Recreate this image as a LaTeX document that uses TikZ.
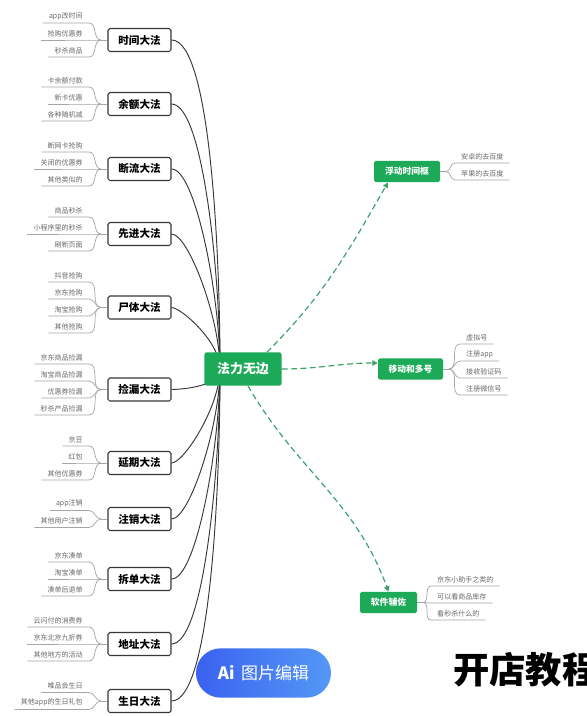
\documentclass[tikz,border=0pt]{standalone}
\usepackage{fontspec}
\setmainfont{Noto Sans CJK SC}
\usetikzlibrary{arrows.meta}

\definecolor{mapgreen}{RGB}{28,170,88}
\definecolor{dashgreen}{RGB}{60,160,105}
\definecolor{boxline}{RGB}{55,55,55}
\definecolor{leafgray}{RGB}{105,105,105}
\definecolor{twiggray}{RGB}{165,165,165}
\definecolor{pillleft}{RGB}{58,98,240}
\definecolor{pillright}{RGB}{84,152,246}

\begin{document}
\begin{tikzpicture}[x=0.03cm, y=-0.03cm,
    method/.style={draw=boxline, fill=white, line width=0.9pt, rounded corners=1.5pt, minimum width=1.89cm, minimum height=0.69cm, inner sep=0pt, font=\fontsize{9}{10}\selectfont\bfseries},
    hubbox/.style={fill=mapgreen, text=white, rounded corners=2pt, minimum width=2.31cm, minimum height=1.0cm, inner sep=0pt, font=\fontsize{11}{12}\selectfont\bfseries},
    tipbox/.style={fill=mapgreen, text=white, rounded corners=1.5pt, minimum height=0.64cm, inner sep=0pt, font=\fontsize{7.5}{8}\selectfont\bfseries},
    leaf/.style={text=leafgray, inner xsep=0.18cm, inner ysep=2.5pt, font=\fontsize{6}{7}\selectfont},
    twig/.style={draw=twiggray, line width=0.6pt},
    branch/.style={draw=boxline, line width=0.8pt},
    link/.style={draw=dashgreen, line width=1pt, dash pattern=on 5pt off 3pt, -{Triangle[width=4.5pt,length=4.5pt]}},
    pill/.style={rounded corners=0.74cm, minimum width=4.05cm, minimum height=1.48cm, left color=pillleft, right color=pillright, text=white, font=\fontsize{14.5}{16}\selectfont}]

  \fill[white] (0,0) rectangle (587,716);
  \useasboundingbox (0,0) rectangle (587,716);

  % left methods
  \foreach \g/\y/\lab in {1/40/时间大法, 2/104/余额大法, 3/169/断流大法, 4/234/先进大法,
      5/307.5/尸体大法, 6/389.5/捡漏大法, 7/463/延期大法, 8/519/注销大法,
      9/579/拆单大法, 10/644/地址大法, 11/701/生日大法} {
    \node[method] (m\g) at (139.5,\y) {\lab};
    \coordinate (j\g) at (101,\y);
    \draw[twig] (j\g) -- (m\g.west);
  }

  \foreach \g/\k/\y/\txt in {1/1/23/app改时间, 1/2/40/抢购优惠券, 1/3/57/秒杀商品,
      2/1/87/卡余额付款, 2/2/104/新卡优惠, 2/3/121/各种随机减,
      3/1/152/断网卡抢购, 3/2/169/关闭的优惠券, 3/3/186/其他类似的,
      4/1/217/商品秒杀, 4/2/234/小程序里的秒杀, 4/3/251/刷新页面,
      5/1/282/抖音抢购, 5/2/299/京东抢购, 5/3/316/淘宝抢购, 5/4/333/其他抢购,
      6/1/364/京东商品捡漏, 6/2/381/淘宝商品捡漏, 6/3/398/优惠券捡漏, 6/4/415/秒杀产品捡漏,
      7/1/446/京豆, 7/2/463/红包, 7/3/480/其他优惠券,
      8/1/510.5/app注销, 8/2/527.5/其他用户注销,
      9/1/562/京东凑单, 9/2/579/淘宝凑单, 9/3/596/凑单后退单,
      10/1/627/云闪付的消费券, 10/2/644/京东北京九折券, 10/3/661/其他地方的活动,
      11/1/692.5/唯品会生日, 11/2/709.5/其他app的生日礼包} {
    \node[leaf, anchor=south east] (m\g-\k) at (89,\y) {\txt};
    \draw[twig] (m\g-\k.south west) -- (m\g-\k.south east) to[out=0,in=180] (j\g);
  }

  % branches into the core
  \coordinate (hub) at (220,369);
  \foreach \g in {1,...,5}
    \draw[branch] (m\g.east) to[out=0,in=90,out looseness=0.3,in looseness=0.9] (hub);
  \foreach \g in {6,...,11}
    \draw[branch] (m\g.east) to[out=0,in=-90,out looseness=0.3,in looseness=0.9] (hub);

  \node[hubbox] (core) at (243,369) {法力无边};

  % right side
  \node[tipbox, minimum width=1.98cm] (r1) at (407,171.5) {浮动时间框};
  \node[tipbox, minimum width=1.95cm] (r2) at (410.5,369) {移动和多号};
  \node[tipbox, minimum width=1.71cm] (r3) at (388.5,602.5) {软件辅佐};

  \coordinate (q1) at (446,171.5);
  \coordinate (q2) at (449,369);
  \coordinate (q3) at (423,602.5);
  \foreach \g in {1,2,3}
    \draw[twig] (r\g.east) -- (q\g);

  \foreach \g/\k/\x/\y/\txt in {1/1/455/163/安卓的去百度, 1/2/455/180/苹果的去百度,
      2/1/460/344/虚拟号, 2/2/460/361/注册app, 2/3/460/378/接收验证码, 2/4/460/395/注册微信号,
      3/1/431/586/京东小助手之类的, 3/2/431/603/可以看商品库存, 3/3/431/620/看秒杀什么的} {
    \node[leaf, anchor=south west] (r\g-\k) at (\x,\y) {\txt};
    \draw[twig] (q\g) to[out=0,in=180] (r\g-\k.south west) -- (r\g-\k.south east);
  }

  \draw[link] ([xshift=0.72cm]core.north) to[out=45,in=-120] ([xshift=-0.57cm]r1.south);
  \draw[link] (core.east) to[out=0,in=180] ([yshift=0.18cm]r2.west);
  \draw[link] ([xshift=0.15cm]core.south) to[out=-60,in=110] (r3.north);

  % overlay
  \node[pill] (aibtn) at (263.5,673) {\textbf{Ai}\hspace{0.2cm}图片编辑};
  \node[anchor=west, font=\fontsize{31}{32}\selectfont\bfseries] (title) at (449,670) {开店教程};
\end{tikzpicture}
\end{document}
